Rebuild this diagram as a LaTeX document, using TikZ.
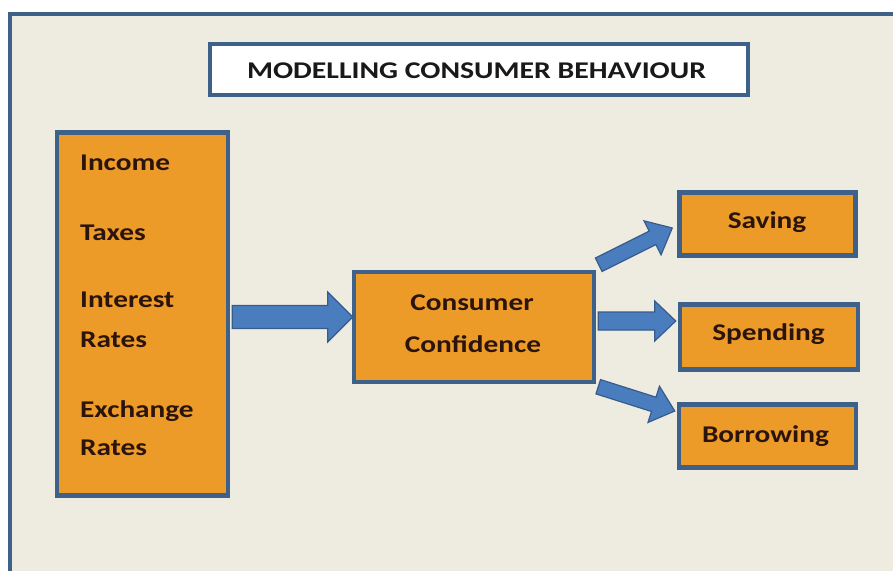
\documentclass[tikz,border=0pt]{standalone}
\usepackage{fontspec}
\setmainfont{Carlito}
\newfontfamily\lblfont[FakeStretch=1.22]{Carlito}
\newfontfamily\headfont[FakeStretch=1.24]{Carlito}
\usetikzlibrary{calc}

\definecolor{frameblue}{RGB}{62,97,138}
\definecolor{paper}{RGB}{238,235,225}
\definecolor{boxorange}{RGB}{237,155,40}
\definecolor{arrowfill}{RGB}{74,125,190}
\definecolor{arrowedge}{RGB}{55,92,140}
\definecolor{inkbrown}{RGB}{42,20,12}

\tikzset{
  panel/.style={draw=frameblue, line width=4.5pt, fill=boxorange, inner sep=0pt},
  titlebox/.style={draw=frameblue, line width=4pt, fill=white, inner sep=0pt},
  lbl/.style={font=\lblfont\bfseries\fontsize{24}{28}\selectfont, text=inkbrown, inner sep=0pt},
  headline/.style={font=\headfont\bfseries\fontsize{24}{28}\selectfont, text=black!90, inner sep=0pt},
  flow/.style={fill=arrowfill, draw=arrowedge, line width=1.2pt, line join=miter},
  % block arrow: #1 half shaft width, #2 half head width, #3 head length (pt)
  blockarrow/.style n args={3}{to path={
    let \p1=(\tikztostart), \p2=(\tikztotarget),
        \n1={atan2(\y2-\y1,\x2-\x1)},
        \n2={veclen(\x2-\x1,\y2-\y1)-#3}
    in ($(\p1)+(\n1+90:#1)$)
    -- ($(\p1)+(\n1:\n2)+(\n1+90:#1)$)
    -- ($(\p1)+(\n1:\n2)+(\n1+90:#2)$)
    -- (\p2)
    -- ($(\p1)+(\n1:\n2)+(\n1-90:#2)$)
    -- ($(\p1)+(\n1:\n2)+(\n1-90:#1)$)
    -- ($(\p1)+(\n1-90:#1)$) -- cycle}},
}

\begin{document}
\begin{tikzpicture}[x=1pt, y=-1pt]
  \useasboundingbox (0,0) rectangle (893,570);
  \fill[white] (0,0) rectangle (893,570);
  % outer frame, running off the right and bottom edges
  \draw[frameblue, line width=4pt, fill=paper] (10,14) rectangle (905,585);

  % title
  \node[titlebox, minimum width=538.5pt, minimum height=51pt] (title) at (478.75,69.5) {};
  \node[headline, anchor=base] (titletext) at (476.5,78) {MODELLING CONSUMER BEHAVIOUR};

  % boxes
  \node[panel, minimum width=171pt, minimum height=363pt] (inputs) at (142.5,314) {};
  \node[panel, minimum width=240pt, minimum height=110pt] (conf) at (474,327) {};
  \node[panel, minimum width=176pt, minimum height=63pt] (saving) at (767.5,224) {};
  \node[panel, minimum width=178pt, minimum height=65pt] (spending) at (769,337) {};
  \node[panel, minimum width=177pt, minimum height=63pt] (borrowing) at (767.5,436) {};

  % factor labels
  \node[lbl, anchor=base west] (income)   at (80,170) {Income};
  \node[lbl, anchor=base west] (taxes)    at (80,240) {Taxes};
  \node[lbl, anchor=base west] (interest) at (80,307) {Interest};
  \node[lbl, anchor=base west] (irates)   at (80,347) {Rates};
  \node[lbl, anchor=base west] (exchange) at (80,417) {Exchange};
  \node[lbl, anchor=base west] (xrates)   at (80,455) {Rates};

  \node[lbl, anchor=base] (conf1) at (472,310) {Consumer};
  \node[lbl, anchor=base] (conf2) at (473,352) {Confidence};
  \node[lbl, anchor=base] (savtext) at (767,228) {Saving};
  \node[lbl, anchor=base] (spetext) at (768.5,340) {Spending};
  \node[lbl, anchor=base] (bortext) at (765.5,442) {Borrowing};

  % flows
  \draw[flow, blockarrow={11.5pt}{25pt}{25}]
    ($(conf.west -| inputs.east)+(2,-10)$) to ($(conf.west)+(1,-10)$);
  \draw[flow, blockarrow={9pt}{20pt}{21}]
    ($(conf.east)+(2,-6)$) to ($(spending.west)+(-2,-16)$);
  \draw[flow, blockarrow={7.5pt}{19pt}{22}]
    ($(conf.north east)+(2.5,-5)$) to ($(saving.west)+(-5,4)$);
  \draw[flow, blockarrow={7.5pt}{19pt}{22}]
    ($(conf.south east)+(2,2.5)$) to ($(borrowing.west)+(-2,-25)$);
\end{tikzpicture}
\end{document}
